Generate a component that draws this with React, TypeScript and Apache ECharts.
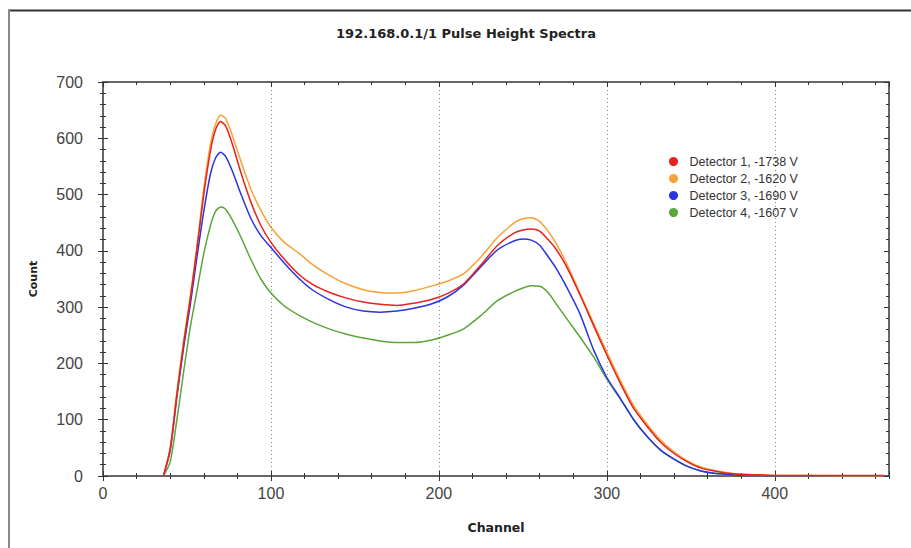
import React, { useEffect, useRef } from "react";
import * as echarts from "echarts";

const TITLE = "192.168.0.1/1 Pulse Height Spectra";
const X_NAME = "Channel";
const Y_NAME = "Count";
const SERIES_NAMES = [
  "Detector 1, -1738 V",
  "Detector 2, -1620 V",
  "Detector 3, -1690 V",
  "Detector 4, -1607 V",
];
const SERIES_COLORS = ["#e8201e", "#f6a234", "#2a34e0", "#5ca53a"];

const channels = [
  36, 40, 44, 48, 52, 56, 60, 64, 67, 70, 73, 77, 82, 88, 94, 100, 108, 117, 125, 135, 145, 155, 165, 175, 185,
  195, 205, 215, 225, 235, 245, 250, 255, 260, 265, 270, 276, 284, 292, 300, 308, 316, 324, 332, 340, 348, 356,
  364, 372, 380, 390, 400, 420, 440, 465,
];

const detector1 = [
  0, 48, 145, 235, 315, 405, 500, 578, 615, 630, 622, 590, 540, 487, 445, 415, 385, 357, 340, 326, 316, 309, 305,
  303, 307, 313, 324, 342, 375, 410, 432, 437, 439, 435, 420, 402, 372, 322, 268, 215, 165, 120, 88, 60, 40, 25,
  14, 9, 5, 3, 2, 1, 1, 1, 1,
];
const detector2 = [
  0, 50, 150, 240, 320, 410, 510, 590, 625, 641, 635, 605, 560, 510, 472, 442, 415, 395, 375, 356, 341, 331, 326,
  325, 329, 337, 346, 360, 389, 424, 450, 457, 459, 452, 435, 412, 378, 325, 272, 220, 170, 125, 92, 64, 43, 27,
  16, 10, 6, 3, 2, 1, 1, 0, 0,
];
const detector3 = [
  0, 45, 140, 228, 305, 390, 470, 537, 565, 575, 568, 542, 502, 458, 427, 406, 378, 350, 330, 313, 300, 293, 291,
  293, 298, 305, 318, 340, 372, 402, 418, 421, 419, 410, 390, 368, 336, 288, 225, 175, 138, 100, 70, 46, 30, 17,
  9, 5, 3, 1, 1, 0, 0, 0, 0,
];
const detector4 = [
  0, 25, 100, 185, 265, 330, 395, 445, 470, 478, 474, 455, 425, 385, 350, 325, 302, 285, 273, 261, 252, 245, 240,
  237, 237, 241, 250, 262, 285, 312, 328, 334, 338, 337, 326, 305, 280, 247, 212, 172, 137, 100, 70, 46, 30, 17,
  9, 5, 3, 1, 1, 0, 0, 0, 0,
];
const SERIES_VALUES = [detector1, detector2, detector3, detector4];

const X_MIN = 0;
const X_MAX = 468;
const Y_MIN = 0;
const Y_MAX = 700;

const LABEL_FONT = "'Liberation Sans', Arial, sans-serif";
const BOLD_FONT = "'DejaVu Sans', Verdana, sans-serif";

export default function App() {
  const ref = useRef<HTMLDivElement>(null);

  useEffect(() => {
    if (!ref.current) return;
    const chart = echarts.init(ref.current, undefined, { renderer: "svg" });

    const axisLineStyle = { color: "#666", width: 2 };
    const tickStyle = { color: "#333", width: 1 };

    const xBase = {
      type: "value" as const,
      min: X_MIN,
      max: X_MAX,
      axisLabel: { show: false },
      splitLine: { show: false },
    };

    const xAxes = [
      {
        ...xBase,
        position: "bottom",
        interval: 100,
        axisLine: { show: true, onZero: false, lineStyle: axisLineStyle },
        axisTick: { show: true, length: 5, lineStyle: tickStyle },
        axisLabel: {
          show: true,
          margin: 9,
          fontSize: 16,
          color: "#444",
          fontFamily: LABEL_FONT,
          showMaxLabel: false,
        },
        splitLine: { show: true, lineStyle: { type: [1, 3], color: "#888", width: 1 } },
      },
      {
        ...xBase,
        position: "bottom",
        interval: 20,
        axisLine: { show: false, onZero: false },
        axisTick: { show: true, length: 3, lineStyle: tickStyle },
      },
      {
        ...xBase,
        position: "bottom",
        interval: 100,
        axisLine: { show: false, onZero: false },
        axisTick: { show: true, inside: true, length: 5, lineStyle: tickStyle },
      },
      {
        ...xBase,
        position: "bottom",
        interval: 20,
        axisLine: { show: false, onZero: false },
        axisTick: { show: true, inside: true, length: 3, lineStyle: tickStyle },
      },
      {
        ...xBase,
        position: "top",
        interval: 100,
        axisLine: { show: true, onZero: false, lineStyle: axisLineStyle },
        axisTick: { show: true, inside: true, length: 5, lineStyle: tickStyle },
      },
      {
        ...xBase,
        position: "top",
        interval: 20,
        axisLine: { show: false, onZero: false },
        axisTick: { show: true, inside: true, length: 3, lineStyle: tickStyle },
      },
    ];

    const yBase = {
      type: "value" as const,
      min: Y_MIN,
      max: Y_MAX,
      interval: 100,
      axisLabel: { show: false },
      splitLine: { show: false },
      minorTick: { show: true, splitNumber: 5, length: 3, lineStyle: tickStyle },
    };

    const yAxes = [
      {
        ...yBase,
        position: "left",
        axisLine: { show: true, onZero: false, lineStyle: axisLineStyle },
        axisTick: { show: true, length: 5, lineStyle: tickStyle },
        axisLabel: { show: true, margin: 20, fontSize: 16, color: "#444", fontFamily: LABEL_FONT },
      },
      {
        ...yBase,
        position: "left",
        axisLine: { show: false, onZero: false },
        axisTick: { show: true, inside: true, length: 5, lineStyle: tickStyle },
      },
      {
        ...yBase,
        position: "right",
        axisLine: { show: true, onZero: false, lineStyle: axisLineStyle },
        axisTick: { show: true, inside: true, length: 5, lineStyle: tickStyle },
      },
    ];

    const drawOrder = [3, 2, 1, 0];
    const series = drawOrder.map((i) => ({
      name: SERIES_NAMES[i],
      type: "line" as const,
      xAxisIndex: 0,
      yAxisIndex: 0,
      showSymbol: false,
      smooth: 0.25,
      color: SERIES_COLORS[i],
      lineStyle: { width: 1.5, color: SERIES_COLORS[i] },
      data: channels.map((c, k) => [c, SERIES_VALUES[i][k]]),
    }));

    chart.setOption({
      animation: false,
      backgroundColor: "#ffffff",
      grid: { left: 103, right: 22, top: 82, bottom: 72, containLabel: false },
      xAxis: xAxes,
      yAxis: yAxes,
      legend: {
        data: SERIES_NAMES,
        orient: "vertical",
        left: 669,
        top: 155,
        padding: 0,
        icon: "circle",
        itemWidth: 22,
        itemHeight: 9,
        itemGap: 4,
        textStyle: { fontSize: 12.5, color: "#333", fontFamily: LABEL_FONT },
      },
      graphic: [
        {
          type: "line",
          shape: { x1: 8, y1: 10.5, x2: 911, y2: 10.5 },
          style: { stroke: "#333", lineWidth: 2 },
        },
        {
          type: "line",
          shape: { x1: 9, y1: 10, x2: 9, y2: 548 },
          style: { stroke: "#888", lineWidth: 2 },
        },
        {
          type: "text",
          x: 466,
          y: 33,
          style: {
            text: TITLE,
            fill: "#222",
            font: `bold 13px ${BOLD_FONT}`,
            align: "center",
            verticalAlign: "middle",
          },
        },
        {
          type: "text",
          x: 496,
          y: 527,
          style: {
            text: X_NAME,
            fill: "#222",
            font: `bold 12.5px ${BOLD_FONT}`,
            align: "center",
            verticalAlign: "middle",
          },
        },
        {
          type: "text",
          x: 33,
          y: 279,
          rotation: Math.PI / 2,
          style: {
            text: Y_NAME,
            fill: "#222",
            font: `bold 11px ${BOLD_FONT}`,
            align: "center",
            verticalAlign: "middle",
          },
        },
      ],
      series,
    });

    return () => chart.dispose();
  }, []);

  return (
    <div
      ref={ref}
      style={{ position: "absolute", left: 0, top: 0, width: 911, height: 548, background: "#fff" }}
    />
  );
}
